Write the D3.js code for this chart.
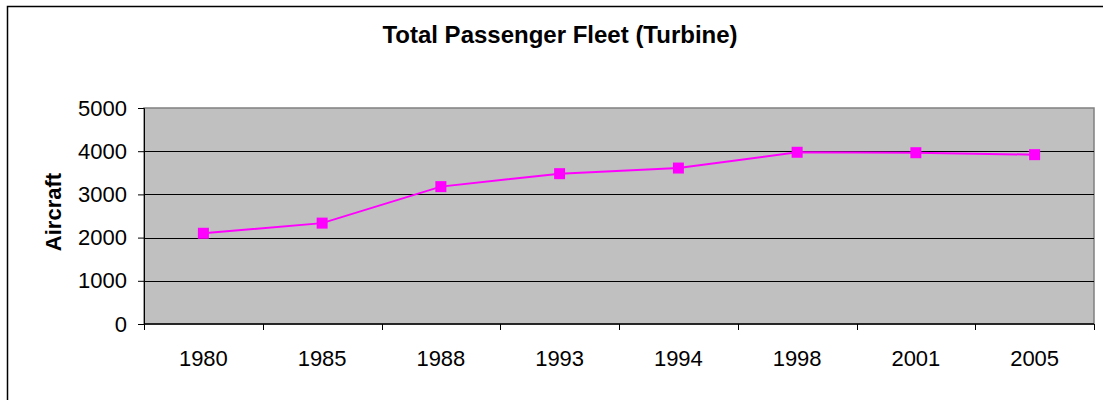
<!DOCTYPE html>
<html>
<head>
<meta charset="utf-8">
<script src="https://cdn.jsdelivr.net/npm/d3@7"></script>
<style>
  body { margin: 0; background: #fff; }
  text { font-family: "Liberation Sans", Arial, sans-serif; }
</style>
</head>
<body>
<div id="chart"></div>
<script>
// data
const years = ["1980", "1985", "1988", "1993", "1994", "1998", "2001", "2005"];
const fleet = [2100, 2335, 3180, 3480, 3610, 3975, 3965, 3920];
const yTicks = [0, 1000, 2000, 3000, 4000, 5000];

const W = 1103, H = 400;
const margin = { top: 108, right: 9, bottom: 76, left: 144 },
    width = W - margin.left - margin.right,
    height = H - margin.top - margin.bottom;

const svg = d3.select("#chart")
    .append("svg")
    .attr("width", W)
    .attr("height", H);

// outer chart frame (runs off the right and bottom)
svg.append("rect")
    .attr("x", 7.5).attr("y", 6.5)
    .attr("width", W + 10).attr("height", H + 10)
    .attr("fill", "#fff")
    .attr("stroke", "#000")
    .attr("stroke-width", 1.5);

const g = svg.append("g")
    .attr("transform", `translate(${margin.left},${margin.top})`);

const x = d3.scaleBand().domain(years).range([0, width]);
const y = d3.scaleLinear().domain([0, 5000]).range([height, 0]);

// plot area
g.append("rect")
    .attr("width", width).attr("height", height)
    .attr("fill", "#c0c0c0")
    .attr("stroke", "#808080")
    .attr("stroke-width", 1.5);

// gridlines
g.selectAll(".grid")
    .data(yTicks.filter(d => d > 0 && d < 5000))
    .join("line")
    .attr("x1", 0).attr("x2", width)
    .attr("y1", d => Math.round(y(d)) + 0.5)
    .attr("y2", d => Math.round(y(d)) + 0.5)
    .attr("stroke", "#000");

// Y axis
const yAxis = g.append("g")
    .call(d3.axisLeft(y).tickValues(yTicks).tickSize(6).tickPadding(11).tickFormat(d3.format("d")));
yAxis.selectAll("text").attr("font-size", 22).attr("fill", "#000").attr("font-family", "Liberation Sans, Arial, sans-serif");
yAxis.selectAll("line").attr("stroke", "#000");
yAxis.select(".domain").attr("stroke", "#000");

// X axis: ticks at band boundaries
const xg = g.append("g").attr("transform", `translate(0,${height})`);
xg.append("line").attr("x1", 0).attr("x2", width).attr("stroke", "#000").attr("stroke-width", 1.5);
const bounds = years.map(d => x(d)).concat([width]);
xg.selectAll(".xt")
    .data(bounds)
    .join("line")
    .attr("x1", d => Math.round(d) + 0.5).attr("x2", d => Math.round(d) + 0.5)
    .attr("y1", 0).attr("y2", 6)
    .attr("stroke", "#000");
xg.selectAll(".xl")
    .data(years)
    .join("text")
    .attr("x", d => x(d) + x.bandwidth() / 2)
    .attr("y", 42)
    .attr("text-anchor", "middle")
    .attr("font-size", 22)
    .text(d => d);

// line
g.append("path")
    .datum(fleet)
    .attr("fill", "none")
    .attr("stroke", "#ff00ff")
    .attr("stroke-width", 2)
    .attr("d", d3.line()
        .x((d, i) => x(years[i]) + x.bandwidth() / 2)
        .y(d => y(d)));

// markers
g.selectAll(".mk")
    .data(fleet)
    .join("rect")
    .attr("x", (d, i) => x(years[i]) + x.bandwidth() / 2 - 5.5)
    .attr("y", d => y(d) - 5.5)
    .attr("width", 11).attr("height", 11)
    .attr("fill", "#ff00ff");

// title
svg.append("text")
    .attr("x", 560).attr("y", 43)
    .attr("text-anchor", "middle")
    .attr("font-size", 24)
    .attr("font-weight", "bold")
    .text("Total Passenger Fleet (Turbine)");

// y label
svg.append("text")
    .attr("transform", `translate(61,212) rotate(-90)`)
    .attr("text-anchor", "middle")
    .attr("font-size", 22)
    .attr("font-weight", "bold")
    .text("Aircraft");
</script>
</body>
</html>
